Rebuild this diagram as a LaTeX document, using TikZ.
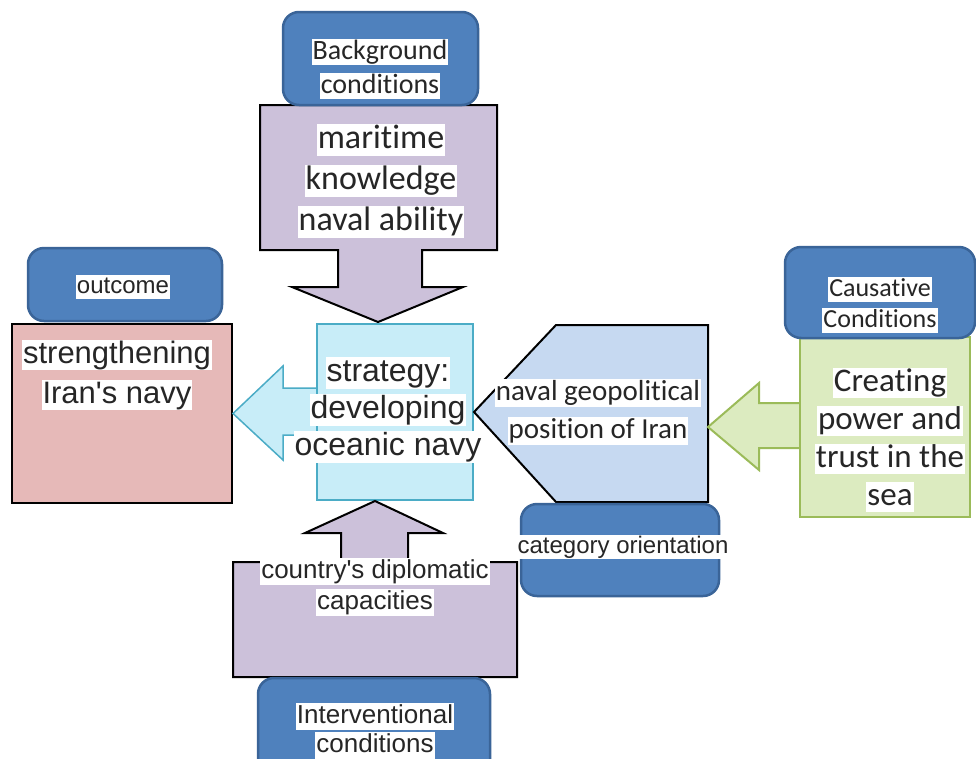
\documentclass[tikz,border=0pt]{standalone}
\usepackage{fontspec}
\setmainfont{Liberation Sans}
\newfontfamily\calibri[Ligatures=NoCommon]{Carlito}
\usepackage{xcolor}
\definecolor{labelBlue}{HTML}{4F81BD}
\definecolor{labelEdge}{HTML}{3A6498}
\definecolor{lilac}{HTML}{CCC1DA}
\definecolor{rose}{HTML}{E6B9B8}
\definecolor{aqua}{HTML}{C8EDF8}
\definecolor{aquaEdge}{HTML}{4BACC6}
\definecolor{paleBlue}{HTML}{C6D9F1}
\definecolor{lime}{HTML}{DCEBC0}
\definecolor{limeEdge}{HTML}{9BBB59}
\definecolor{inkGray}{HTML}{262626}
\usetikzlibrary{positioning,calc}
\newcommand{\hl}[1]{{\setlength{\fboxsep}{1pt}\colorbox{white}{\vphantom{Agly}#1}}}
\tikzset{%
  labelBox/.style={%
    rectangle,
    rounded corners=16pt,
    draw=labelEdge,
    line width=2.5pt,
    fill=labelBlue
  },
  lilacShape/.style={%
    draw=black,
    line width=2pt,
    fill=lilac
  },
  plainBox/.style={%
    rectangle,
    draw=black,
    line width=2pt
  },
  aquaBox/.style={%
    rectangle,
    draw=aquaEdge,
    line width=2pt,
    fill=aqua
  },
  aquaArrow/.style={%
    draw=aquaEdge,
    line width=1.5pt,
    fill=aqua
  },
  limeShape/.style={%
    draw=limeEdge,
    line width=2pt,
    fill=lime
  },
  textArial/.style={%
    align=center,
    inner sep=0pt,
    text=inkGray
  },
  textCalibri/.style={%
    align=center,
    inner sep=0pt,
    text=inkGray
  }
}
\begin{document}
\begin{tikzpicture}[x=1pt,y=-1pt]
  \clip (0,0) rectangle (976,758);
  \fill[white] (0,0) rectangle (976,758);

  % background conditions (top)
  \draw[lilacShape] (260,105) -- (497,105) -- (497,250) -- (422,250) -- (422,287) -- (463,287)
    -- (378,322) -- (292,287) -- (338,287) -- (338,250) -- (260,250) -- cycle;
  \node[labelBox, minimum width=195pt, minimum height=93pt] (bgBox) at (380.5,58.5) {};
  \node[textCalibri, font=\calibri\fontsize{28}{34}\selectfont] (bgText) at (380,69)
    {\hl{Background}\\\hl{conditions}};
  \node[textCalibri, font=\calibri\fontsize{34}{41}\selectfont] (knowledgeText) at (381,181)
    {\hl{maritime}\\\hl{knowledge}\\\hl{naval ability}};

  % outcome (left)
  \node[labelBox, minimum width=194pt, minimum height=73pt] (outcomeBox) at (125,284.5) {};
  \node[textArial, font=\fontsize{24}{28}\selectfont] (outcomeText) at (123,287) {\hl{outcome}};
  \node[plainBox, fill=rose, minimum width=220pt, minimum height=179pt] (navyGoal) at (122,413.5) {};
  \node[textArial, font=\fontsize{31}{40}\selectfont] (goalText) at (117,375)
    {\hl{strengthening}\\\hl{Iran\textquotesingle s navy}};

  % strategy (centre)
  \filldraw[aquaArrow] (317,388) -- (283,388) -- (283,366) -- (navyGoal.east) -- (283,460)
    -- (283,435) -- (317,435) -- cycle;
  \node[aquaBox, minimum width=156pt, minimum height=176pt] (strategyBox) at (395,412) {};

  % causal conditions (right)
  \draw[lilacShape, fill=paleBlue] (556,325) -- (708,325) -- (708,502) -- (556,502)
    -- (strategyBox.east) -- cycle;
  \node[labelBox, minimum width=198pt, minimum height=92pt] (categoryBox) at (620,550) {};
  \node[textArial, font=\fontsize{24}{28}\selectfont] (categoryText) at (623,547)
    {\hl{category orientation}};
  \filldraw[limeShape] (800,403) -- (759,403) -- (759,383) -- (708,427) -- (759,470)
    -- (759,448) -- (800,448) -- cycle;
  \node[rectangle, limeShape, minimum width=170pt, minimum height=180pt] (seaBox) at (885,427) {};
  \node[labelBox, minimum width=190pt, minimum height=91pt] (causeBox) at (880,292.5) {};
  \node[textCalibri, font=\calibri\fontsize{26}{31}\selectfont] (causeText) at (880,305)
    {\hl{Causative}\\\hl{Conditions}};
  \node[textCalibri, font=\calibri\fontsize{33}{38}\selectfont] (seaText) at (890,440)
    {\hl{Creating}\\\hl{power and}\\\hl{trust in the}\\\hl{sea}};
  \node[textCalibri, font=\calibri\fontsize{29}{38}\selectfont] (geoText) at (598,412)
    {\hl{naval geopolitical}\\\hl{position of Iran}};

  % interventional conditions (bottom)
  \draw[lilacShape] (233,562) -- (341,562) -- (341,533) -- (305,533) -- (strategyBox.south -| 375,0)
    -- (443,533) -- (408,533) -- (408,562) -- (517,562) -- (517,677) -- (233,677) -- cycle;
  \node[labelBox, minimum width=232pt, minimum height=100pt] (interBox) at (374,728) {};
  \node[textArial, font=\fontsize{26}{31}\selectfont] (diplomacyText) at (375,587)
    {\hl{country\textquotesingle s diplomatic}\\\hl{capacities}};
  \node[textArial, font=\fontsize{26}{29}\selectfont] (interText) at (375,731)
    {\hl{Interventional}\\\hl{conditions}};

  \node[textArial, font=\fontsize{32}{37}\selectfont] (strategyText) at (388,410)
    {\hl{strategy:}\\\hl{developing}\\\hl{oceanic navy}};
\end{tikzpicture}
\end{document}
